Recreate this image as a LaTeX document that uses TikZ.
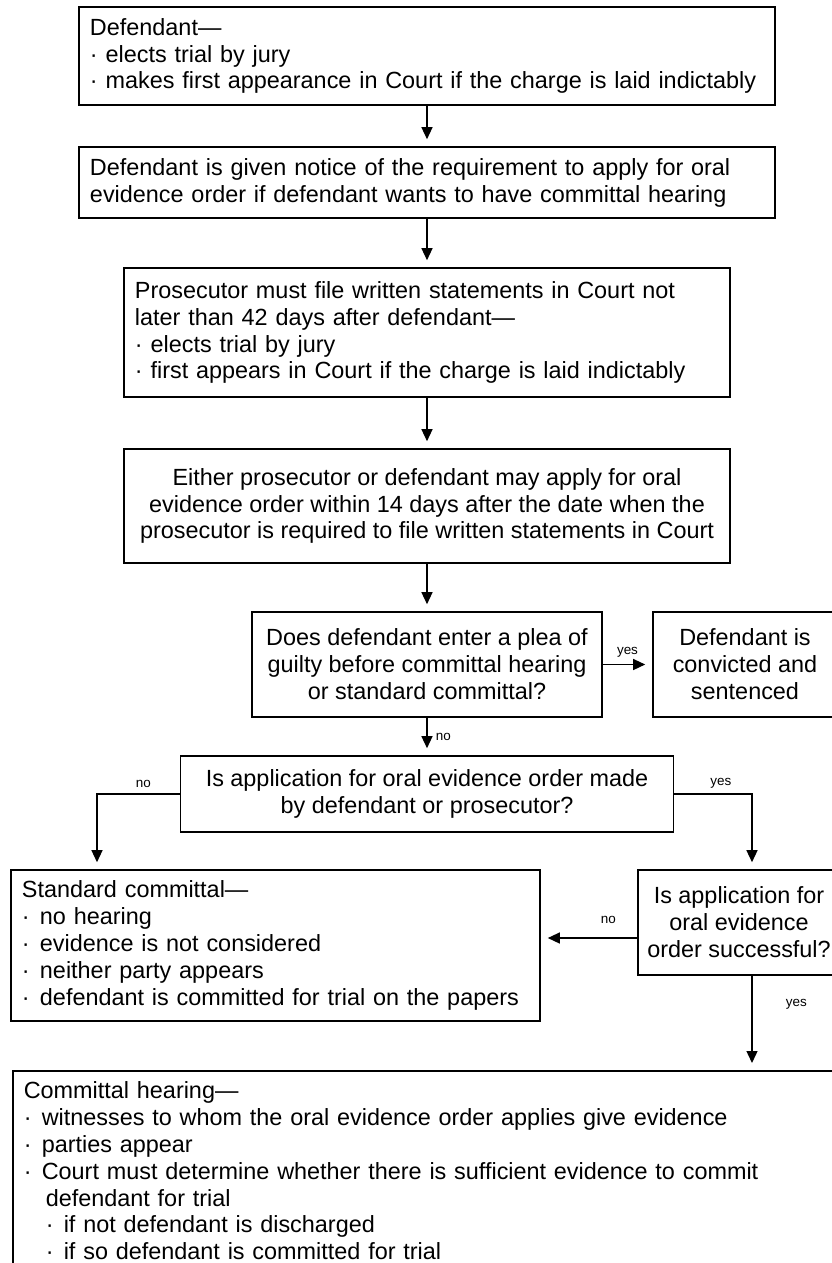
\documentclass[tikz,border=0pt]{standalone}
\usepackage{fontspec}
\setmainfont{Liberation Sans}
\usetikzlibrary{arrows.meta}
\newcommand{\itm}{\makebox[18bp][l]{·}}
\begin{document}
\begin{tikzpicture}[x=1bp,y=-1bp,>={Triangle[length=12bp,width=11bp]},
		box/.style={draw,line width=1.6bp,inner xsep=11bp,inner ysep=0bp,font=\fontsize{23.5}{27}\selectfont},
		cbox/.style={box,align=center,inner xsep=2bp},
		arr/.style={->,line width=1.3bp,shorten >=7bp},
		lbl/.style={font=\fontsize{13.5}{15}\selectfont}]
		\useasboundingbox (0,0) rectangle (832,1263);
		\clip (0,0) rectangle (832,1263);
		\node[box,align=left,text width=674bp,minimum height=98bp] (defend) at (427,56) {Defendant---\\· elects trial by jury\\· makes first appearance in Court if the charge is laid indictably};
		\node[box,align=left,text width=674bp,minimum height=71bp] (notice) at (427,182.5) {Defendant is given notice of the requirement to apply for oral\\evidence order if defendant wants to have committal hearing};
		\node[box,align=left,text width=584bp,minimum height=129bp] (prosec) at (427,332.5) {Prosecutor must file written statements in Court not\\later than 42 days after defendant---\\· elects trial by jury\\· first appears in Court if the charge is laid indictably};
		\node[cbox,minimum width=606bp,minimum height=114bp] (either) at (427,506) {Either prosecutor or defendant may apply for oral\\evidence order within 14 days after the date when the\\prosecutor is required to file written statements in Court};
		\node[cbox,minimum width=350bp,minimum height=105bp] (plea) at (427,664.5) {Does defendant enter a plea of\\guilty before committal hearing\\or standard committal?};
		\node[cbox,minimum width=184bp,minimum height=105bp] (convict) at (745,664.5) {Defendant is\\convicted and\\sentenced};
		\node[cbox,minimum width=493bp,minimum height=76bp] (apply) at (427,794) {Is application for oral evidence order made\\by defendant or prosecutor?};
		\node[box,align=left,text width=507bp,minimum height=151bp] (standard) at (275.5,945.5) {Standard committal---\\\itm no hearing\\\itm evidence is not considered\\\itm neither party appears\\\itm defendant is committed for trial on the papers};
		\node[cbox,minimum width=202bp,minimum height=105bp] (success) at (739,922.5) {Is application for\\oral evidence\\order successful?};
		\node[box,align=left,text width=816bp,minimum height=200bp,anchor=north west] (hearing) at (12,1070) {Committal hearing---\\\itm witnesses to whom the oral evidence order applies give evidence\\\itm parties appear\\\itm Court must determine whether there is sufficient evidence to commit\\\hspace{22bp}defendant for trial\\\hspace{22bp}\itm if not defendant is discharged\\\hspace{22bp}\itm if so defendant is committed for trial};
		\coordinate (nobend) at (97,0);
		\coordinate (yesbend) at (752,0);
		\coordinate (nolink) at (0,938);
		\draw[arr] (defend) -- (notice);
		\draw[arr] (notice) -- (prosec);
		\draw[arr] (prosec) -- (either);
		\draw[arr] (either) -- (plea);
		\draw[arr] (plea) -- (convict) node[lbl,midway,above=3bp] {yes};
		\draw[arr] (plea) -- (apply) node[lbl,pos=0.5,right=5bp] {no};
		\draw[arr] (apply.west) -| (nobend |- standard.north) node[lbl,pos=0.22,above=2bp] {no};
		\draw[arr] (apply.east) -| (yesbend |- success.north) node[lbl,pos=0.3,above=2bp] {yes};
		\draw[arr] (success.west |- nolink) -- (standard.east |- nolink) node[lbl,pos=0.3,above=10bp] {no};
		\draw[arr] (success.south -| yesbend) -- (hearing.north -| yesbend) node[lbl,pos=0.3,right=30bp] {yes};
	\end{tikzpicture}
\end{document}
